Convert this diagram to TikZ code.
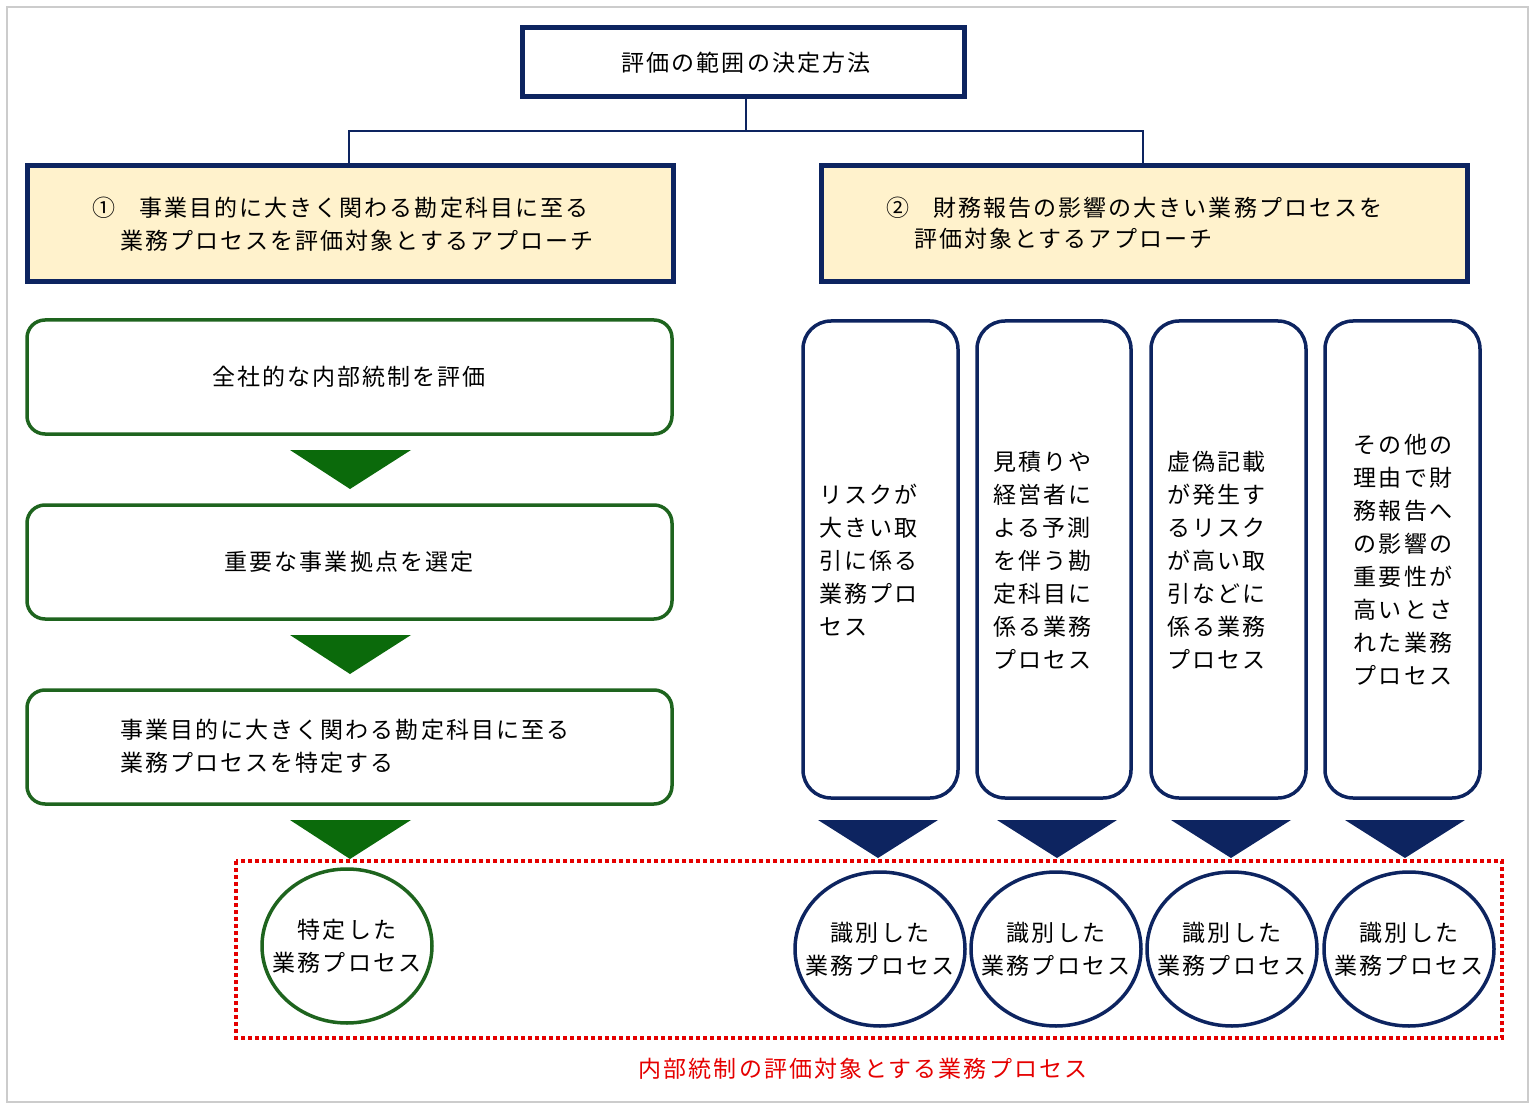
\documentclass[tikz,border=0pt]{standalone}
\usepackage{fontspec}
\setmainfont{Noto Sans CJK JP}[LetterSpace=9]
\usetikzlibrary{shapes.geometric}
\definecolor{navy}{HTML}{0D2460}
\definecolor{dgreen}{HTML}{1E641E}
\definecolor{tri}{HTML}{0B6A0B}
\definecolor{cream}{HTML}{FFF2CC}
\tikzset{
 x=1pt,y=-1pt,
 txt/.style={font=\fontsize{23}{33}\selectfont,inner sep=0pt},
 head/.style={draw=navy,line width=5pt},
 gbox/.style={draw=dgreen,line width=3.5pt,rounded corners=18pt},
 nbox/.style={draw=navy,line width=3.5pt,rounded corners=28pt},
 ctxt/.style={align=center,font=\fontsize{23}{33}\selectfont,inner sep=0pt},
 gring/.style={draw=dgreen,line width=3.5pt},
 nring/.style={draw=navy,line width=3.5pt},
}
\begin{document}
\begin{tikzpicture}
\useasboundingbox (0,0) rectangle (1535,1107);
\draw[gray!40,line width=1.5pt] (7,7) rectangle (1528,1102);
% top
\draw[head] (522,28) rectangle (964,97);
\node[txt] (top) at (746,63) {評価の範囲の決定方法};
\coordinate (tb) at (746,97);
\coordinate (l1) at (349,166);
\coordinate (r1) at (1143,166);
\draw[navy,line width=1.3pt] (tb) -- (746,131) -| (l1);
\draw[navy,line width=1.3pt] (746,131) -| (r1);
% headers
\draw[head,fill=cream] (27,166) rectangle (673,282);
\node[txt,anchor=west] (h1a) at (92,208) {①\hspace{24pt}事業目的に大きく関わる勘定科目に至る};
\node[txt,anchor=west] (h1b) at (120,241) {業務プロセスを評価対象とするアプローチ};
\draw[head,fill=cream] (821,166) rectangle (1467,282);
\node[txt,anchor=west] (h2a) at (886,208) {②\hspace{24pt}財務報告の影響の大きい業務プロセスを};
\node[txt,anchor=west] (h2b) at (914,239) {評価対象とするアプローチ};
% green steps
\draw[gbox] (27,320) rectangle (672,434);
\node[txt] (g1) at (349,377) {全社的な内部統制を評価};
\draw[gbox] (27,505) rectangle (672,619);
\node[txt] (g2) at (349,562) {重要な事業拠点を選定};
\draw[gbox] (27,690) rectangle (672,804);
\node[txt,align=left,anchor=west] (g3) at (120,746) {事業目的に大きく関わる勘定科目に至る\\業務プロセスを特定する};
\foreach \y in {450,635,820}{\fill[tri] (290,\y) -- (411,\y) -- (350,\y+39) -- cycle;}
\node[ctxt] (e0) at (347,946) {特定した\\業務プロセス};
\draw[gring] (e0.center) ellipse (85 and 77);
% tall boxes
\foreach \a/\b in {803/958,977/1131,1151/1306,1325/1480}{\draw[nbox] (\a,321) rectangle (\b,798);}
\node[txt,align=left] (t1) at (880,560) {リスクが\\大きい取\\引に係る\\業務プロ\\セス\phantom{スクが}};
\node[txt,align=left] (t2) at (1054,560) {見積りや\\経営者に\\よる予測\\を伴う勘\\定科目に\\係る業務\\プロセス\phantom{が}};
\node[txt,align=left] (t3) at (1228,560) {虚偽記載\\が発生す\\るリスク\\が高い取\\引などに\\係る業務\\プロセス\phantom{が}};
\node[txt,align=left] (t4) at (1403,560) {その他の\\理由で財\\務報告へ\\の影響の\\重要性が\\高いとさ\\れた業務\\プロセス};
\foreach \c in {878,1057,1231,1405}{\fill[navy] (\c-60,820) -- (\c+60,820) -- (\c,858) -- cycle;}
\node[ctxt] (e1) at (880,949) {識別した\\業務プロセス};
\node[ctxt] (e2) at (1056,949) {識別した\\業務プロセス};
\node[ctxt] (e3) at (1232,949) {識別した\\業務プロセス};
\node[ctxt] (e4) at (1409,949) {識別した\\業務プロセス};
\foreach \e in {e1,e2,e3,e4}{\draw[nring] (\e.center) ellipse (85 and 77);}
\draw[red!90!black,line width=4pt,dash pattern=on 4pt off 3pt] (236,861) rectangle (1502,1038);
\node[txt,text=red!90!black] (lab) at (863,1069) {内部統制の評価対象とする業務プロセス};
\end{tikzpicture}
\end{document}
